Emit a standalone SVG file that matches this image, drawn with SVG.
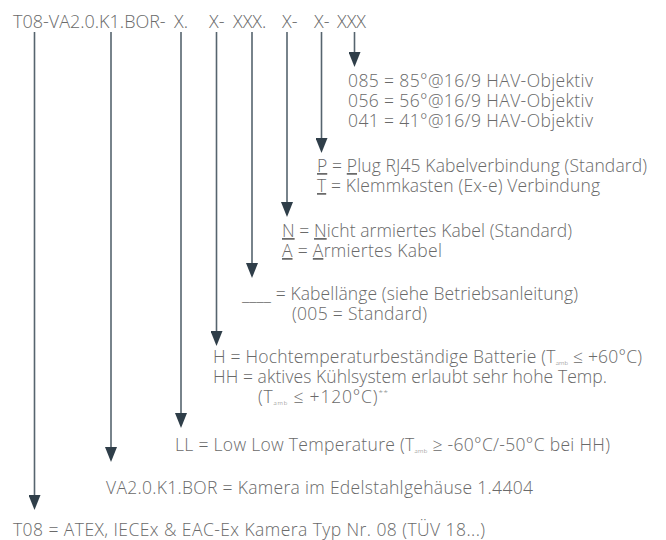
<svg xmlns="http://www.w3.org/2000/svg" width="666" height="540" viewBox="0 0 666 540">
<style>
  text { font-family: "Open Sans", "Liberation Sans", sans-serif; font-size: 17.5px; fill: #6a6a6a; font-weight: 300; }
  .code { font-size: 18px; }
  .sub { font-size: 6px; }
  .sup { font-size: 8px; }
  .u { text-decoration: underline; }
  .conn line { stroke: #56646e; stroke-width: 1.6; fill: none; marker-end: url(#ah); }
</style>
<defs>
  <marker id="ah" viewBox="0 0 15 12" refX="2" refY="6" markerWidth="15" markerHeight="12" markerUnits="userSpaceOnUse" orient="auto">
    <path d="M0,0 L15,6 L0,12 Z" fill="#2f3e49"/>
  </marker>
</defs>
<rect width="666" height="540" fill="#ffffff"/>

<g id="code">
  <text class="code" y="28"><tspan x="13">T08-VA2.0.K1.BOR-</tspan><tspan x="174">X.</tspan><tspan x="209">X-</tspan><tspan x="233">XXX.</tspan><tspan x="282">X-</tspan><tspan x="314">X-</tspan><tspan x="337">XXX</tspan></text>
</g>

<g class="conn" id="connectors">
  <line x1="354.5" y1="32" x2="354.5" y2="54"/>
  <line x1="321.5" y1="32" x2="321.5" y2="140"/>
  <line x1="287" y1="32" x2="287" y2="204"/>
  <line x1="252" y1="32" x2="252" y2="265"/>
  <line x1="216.5" y1="32" x2="216.5" y2="333"/>
  <line x1="181" y1="32" x2="181" y2="415"/>
  <line x1="111" y1="32" x2="111" y2="449"/>
  <line x1="34.5" y1="32" x2="34.5" y2="497"/>
</g>

<g id="objektiv">
  <text x="348" y="87" textLength="245">085 = 85°@16/9 HAV-Objektiv</text>
  <text x="348" y="107" textLength="245">056 = 56°@16/9 HAV-Objektiv</text>
  <text x="348" y="127" textLength="245">041 = 41°@16/9 HAV-Objektiv</text>
</g>

<g id="verbindung">
  <text x="317" y="172" textLength="330"><tspan class="u">P</tspan> = <tspan class="u">P</tspan>lug RJ45 Kabelverbindung (Standard)</text>
  <text x="317" y="192" textLength="283"><tspan class="u">T</tspan> = Klemmkasten (Ex-e) Verbindung</text>
</g>

<g id="kabel">
  <text x="282" y="237" textLength="290"><tspan class="u">N</tspan> = <tspan class="u">N</tspan>icht armiertes Kabel (Standard)</text>
  <text x="282" y="257" textLength="160"><tspan class="u">A</tspan> = <tspan class="u">A</tspan>rmiertes Kabel</text>
</g>

<g id="kabellaenge">
  <text x="242" y="300" textLength="336">____ = Kabellänge (siehe Betriebsanleitung)</text>
  <text x="292" y="320" textLength="135">(005 = Standard)</text>
</g>

<g id="temperatur">
  <text x="213" y="363" textLength="429">H = Hochtemperaturbeständige Batterie (T<tspan class="sub" dy="2">amb</tspan><tspan dy="-2"> ≤ +60°C)</tspan></text>
  <text x="213" y="383" textLength="394">HH = aktives Kühlsystem erlaubt sehr hohe Temp.</text>
  <text x="258" y="403" textLength="130">(T<tspan class="sub" dy="2">amb</tspan><tspan dy="-2"> ≤ +120°C)</tspan><tspan class="sup" dy="-7">**</tspan></text>
</g>

<g id="lowlow">
  <text x="175" y="451" textLength="435">LL = Low Low Temperature (T<tspan class="sub" dy="2">amb</tspan><tspan dy="-2"> ≥ -60°C/-50°C bei HH)</tspan></text>
</g>

<g id="gehaeuse">
  <text x="106" y="494" textLength="427">VA2.0.K1.BOR = Kamera im Edelstahlgehäuse 1.4404</text>
</g>

<g id="typ">
  <text x="13" y="536" textLength="472">T08 = ATEX, IECEx &amp; EAC-Ex Kamera Typ Nr. 08 (TÜV 18...)</text>
</g>
</svg>
